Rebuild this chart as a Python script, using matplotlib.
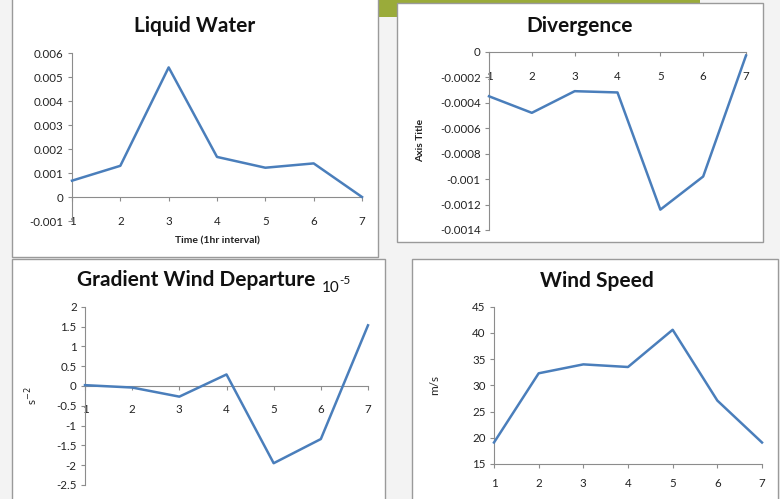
import matplotlib
matplotlib.use("Agg")
import matplotlib.pyplot as plt
from matplotlib.patches import Rectangle

plt.rcParams['font.family'] = ['Lato', 'DejaVu Sans']

W, H = 780, 499

# ---------------- data ----------------
hours = [1, 2, 3, 4, 5, 6, 7]

liquid_water = [0.00068, 0.0013, 0.0054, 0.00167, 0.00122, 0.0014, 0.0]
lw_yticks = [-0.001, 0, 0.001, 0.002, 0.003, 0.004, 0.005, 0.006]
lw_ylabels = ["-0.001", "0", "0.001", "0.002", "0.003", "0.004", "0.005", "0.006"]

divergence = [-0.00035, -0.00048, -0.00031, -0.00032, -0.00124, -0.00098, -0.00003]
dv_yticks = [-0.0014, -0.0012, -0.001, -0.0008, -0.0006, -0.0004, -0.0002, 0]
dv_ylabels = ["-0.0014", "-0.0012", "-0.001", "-0.0008", "-0.0006", "-0.0004", "-0.0002", "0"]

gradient_dep = [0.02, -0.04, -0.27, 0.29, -1.95, -1.34, 1.53]
gd_yticks = [-2.5, -2, -1.5, -1, -0.5, 0, 0.5, 1, 1.5, 2]
gd_ylabels = ["-2.5", "-2", "-1.5", "-1", "-0.5", "0", "0.5", "1", "1.5", "2"]

wind_speed = [19.1, 32.3, 34.0, 33.5, 40.6, 27.1, 19.1]
ws_yticks = [15, 20, 25, 30, 35, 40, 45]
ws_ylabels = ["15", "20", "25", "30", "35", "40", "45"]

LINE = "#4a7ebb"
SPINE = "#8c8c8c"
TXT = "#222222"

fig = plt.figure(figsize=(W / 100, H / 100), dpi=100)
fig.patch.set_facecolor("#f3f3f3")


def px_rect(x0, y0, x1, y1):
    return (x0 / W, 1 - y1 / H, (x1 - x0) / W, (y1 - y0) / H)


# slide banner
fig.patches.append(Rectangle((80 / W, 1 - 17 / H), 620 / W, 17 / H,
                             transform=fig.transFigure, facecolor="#9aab3a",
                             edgecolor="none", zorder=0))

# panel boxes
for (x0, y0, x1, y1) in [(12, -2, 378, 257), (397, 3, 763, 242),
                         (12, 259, 385, 501), (412, 259, 778, 501)]:
    fig.patches.append(Rectangle((x0 / W, 1 - y1 / H), (x1 - x0) / W, (y1 - y0) / H,
                                 transform=fig.transFigure, facecolor="white",
                                 edgecolor="#9a9a9a", linewidth=1.0, zorder=1))


def make_ax(rect, data, yticks, ylabels, ylim, xpad):
    ax = fig.add_axes(rect)
    ax.set_zorder(5)
    ax.set_facecolor("none")
    ax.plot(hours, data, color=LINE, lw=1.8, solid_joinstyle="round",
            clip_on=False, zorder=3)
    ax.set_xlim(1, 7)
    ax.set_ylim(*ylim)
    ax.set_xticks(hours)
    ax.set_xticklabels([str(h) for h in hours])
    ax.set_yticks(yticks)
    ax.set_yticklabels(ylabels)
    for s in ["top", "right"]:
        ax.spines[s].set_visible(False)
    for s in ["left", "bottom"]:
        ax.spines[s].set_color(SPINE)
        ax.spines[s].set_linewidth(0.8)
    ax.tick_params(axis="both", colors=SPINE, labelcolor=TXT, labelsize=8.3,
                   length=3, width=0.8, direction="out")
    ax.tick_params(axis="x", pad=xpad)
    ax.tick_params(axis="y", pad=3)
    return ax


TITLE = dict(ha="center", va="center", fontsize=15, fontweight="bold",
             color="#111111", zorder=10)

# Liquid Water
ax1 = make_ax(px_rect(72, 53, 362, 221), liquid_water, lw_yticks, lw_ylabels,
              (-0.001, 0.006), 11)
ax1.spines["bottom"].set_position(("data", 0))
ax1.set_xlabel("Time (1hr interval)", fontsize=7.5, fontweight="bold", color=TXT)
ax1.xaxis.set_label_coords(0.5, -0.09)
fig.text(195 / W, 1 - 26 / H, "Liquid Water", **TITLE)

# Divergence
ax2 = make_ax(px_rect(489, 51.7, 746, 230), divergence, dv_yticks, dv_ylabels,
              (-0.0014, 0), 11)
ax2.spines["bottom"].set_position(("data", 0))
ax2.set_ylabel("Axis Title", fontsize=7.5, fontweight="bold", color=TXT)
ax2.yaxis.set_label_coords(-0.25, 0.5)
fig.text(580 / W, 1 - 26 / H, "Divergence", **TITLE)

# Gradient Wind Departure
ax3 = make_ax(px_rect(85, 306.7, 368, 485), gradient_dep, gd_yticks, gd_ylabels,
              (-2.5, 2), 10)
ax3.spines["bottom"].set_position(("data", 0))
ax3.set_ylabel("s$^{-2}$", fontsize=8.5, color=TXT)
ax3.yaxis.set_label_coords(-0.16, 0.5)
fig.text(196 / W, 1 - 280 / H, "Gradient Wind Departure", **TITLE)
fig.text(322 / W, 1 - 288 / H, "10", ha="left", va="center",
         fontsize=11, color="#111111", zorder=10)
fig.text(339 / W, 1 - 281 / H, "-5", ha="left", va="center",
         fontsize=8.5, color="#111111", zorder=10)

# Wind Speed
ax4 = make_ax(px_rect(494, 306.7, 762, 464), wind_speed, ws_yticks, ws_ylabels,
              (15, 45), 7)
ax4.set_ylabel("m/s", fontsize=8.5, color=TXT)
ax4.yaxis.set_label_coords(-0.2, 0.5)
fig.text(597 / W, 1 - 281 / H, "Wind Speed", **TITLE)

fig.savefig("out.png", dpi=100, facecolor=fig.get_facecolor())
